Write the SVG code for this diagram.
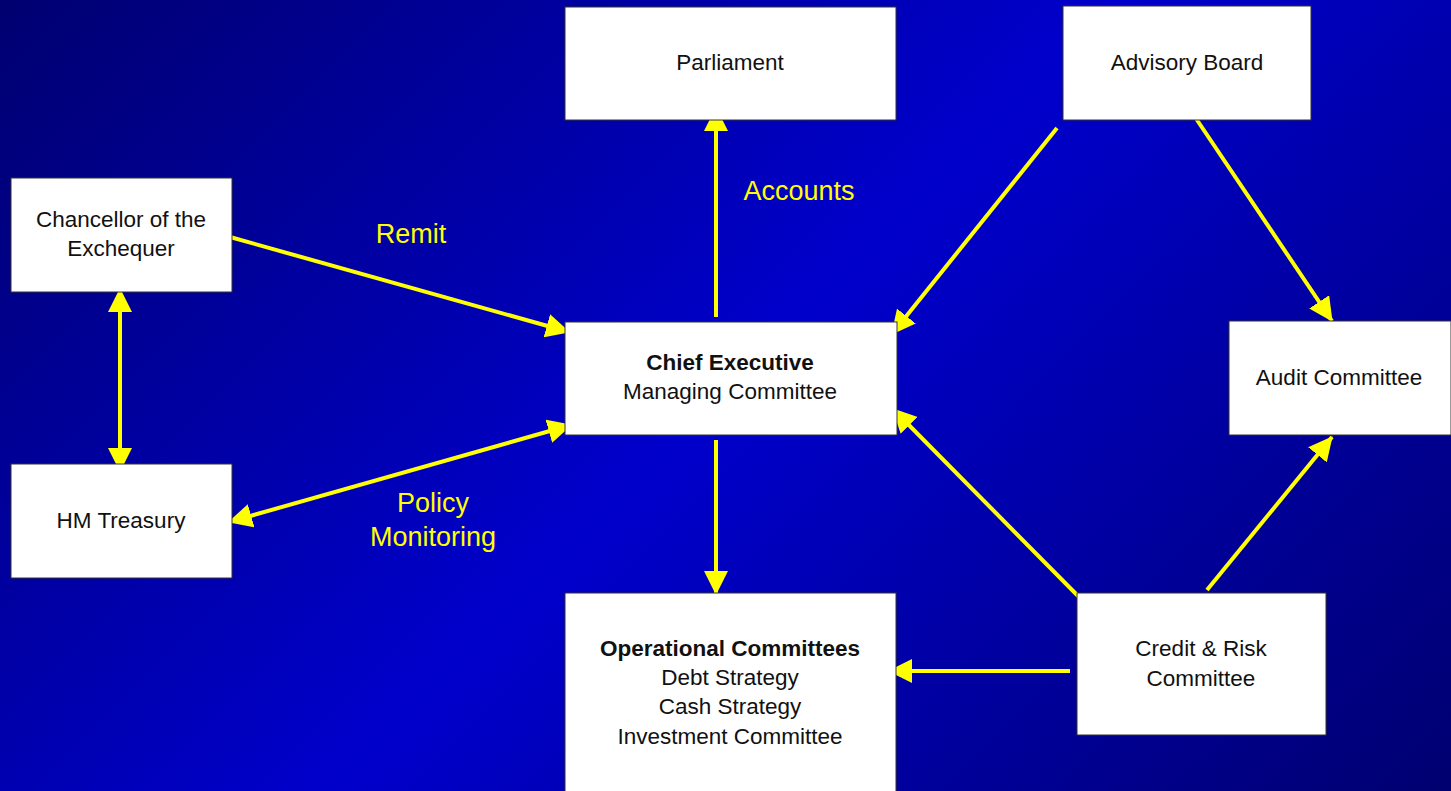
<svg xmlns="http://www.w3.org/2000/svg" width="1451" height="791" viewBox="0 0 1451 791">
  <defs>
    <linearGradient id="bg" gradientUnits="userSpaceOnUse" x1="0" y1="0" x2="1121" y2="1121">
      <stop offset="0" stop-color="#000070"/>
      <stop offset="0.5" stop-color="#0000cc"/>
      <stop offset="1" stop-color="#000070"/>
    </linearGradient>
    <marker id="head" viewBox="0 0 24 24" refX="23" refY="12" markerWidth="24" markerHeight="24" markerUnits="userSpaceOnUse" orient="auto-start-reverse">
      <path d="M0,0 L24,12 L0,24 Z" fill="#ffff00"/>
    </marker>
    <style>
      .box { fill: #ffffff; stroke: #333333; stroke-width: 1; }
      .txt { font-family: "Liberation Sans", Arial, sans-serif; font-size: 22.5px; fill: #111111; text-anchor: middle; }
      .bold { font-weight: bold; }
      .lbl { font-family: "Liberation Sans", Arial, sans-serif; font-size: 27px; fill: #ffff00; text-anchor: middle; }
      .conn { stroke: #ffff00; stroke-width: 4; fill: none; }
      .one { marker-end: url(#head); }
      .two { marker-start: url(#head); marker-end: url(#head); }
    </style>
  </defs>

  <rect x="0" y="0" width="1451" height="791" fill="url(#bg)"/>

  <!-- connectors -->
  <g id="connectors">
    <line class="conn two" x1="120" y1="289" x2="120" y2="471"/>
    <line class="conn one" x1="230" y1="237" x2="569" y2="332"/>
    <line class="conn two" x1="229" y1="522" x2="571" y2="425"/>
    <line class="conn one" x1="716" y1="317" x2="716" y2="108"/>
    <line class="conn one" x1="716" y1="440" x2="716" y2="594"/>
    <line class="conn one" x1="1057" y1="128" x2="892" y2="334"/>
    <line class="conn one" x1="1193" y1="114" x2="1332" y2="321"/>
    <line class="conn one" x1="1084" y1="602" x2="893" y2="409"/>
    <line class="conn one" x1="1207" y1="590" x2="1332" y2="437"/>
    <line class="conn one" x1="1070" y1="671" x2="889" y2="671"/>
  </g>

  <!-- connector labels -->
  <g id="labels">
    <text class="lbl" x="411" y="243">Remit</text>
    <text class="lbl" x="799" y="200">Accounts</text>
    <text class="lbl" x="433" y="512">Policy</text>
    <text class="lbl" x="433" y="546">Monitoring</text>
  </g>

  <g id="parliament">
    <rect class="box" x="565" y="7" width="331" height="113"/>
    <text class="txt" x="730" y="70">Parliament</text>
  </g>

  <g id="advisory-board">
    <rect class="box" x="1063" y="6" width="248" height="114"/>
    <text class="txt" x="1187" y="70">Advisory Board</text>
  </g>

  <g id="chancellor">
    <rect class="box" x="11" y="178" width="221" height="114"/>
    <text class="txt" x="121" y="227">Chancellor of the</text>
    <text class="txt" x="121" y="256">Exchequer</text>
  </g>

  <g id="hm-treasury">
    <rect class="box" x="11" y="464" width="221" height="114"/>
    <text class="txt" x="121" y="528">HM Treasury</text>
  </g>

  <g id="chief-executive">
    <rect class="box" x="565" y="322" width="332" height="113"/>
    <text class="txt bold" x="730" y="370">Chief Executive</text>
    <text class="txt" x="730" y="399">Managing Committee</text>
  </g>

  <g id="audit-committee">
    <rect class="box" x="1229" y="321" width="222" height="114"/>
    <text class="txt" x="1339" y="385">Audit Committee</text>
  </g>

  <g id="operational-committees">
    <rect class="box" x="565" y="593" width="331" height="210"/>
    <text class="txt bold" x="730" y="656">Operational Committees</text>
    <text class="txt" x="730" y="685">Debt Strategy</text>
    <text class="txt" x="730" y="714">Cash Strategy</text>
    <text class="txt" x="730" y="744">Investment Committee</text>
  </g>

  <g id="credit-risk">
    <rect class="box" x="1077" y="593" width="249" height="142"/>
    <text class="txt" x="1201" y="656">Credit &amp; Risk</text>
    <text class="txt" x="1201" y="686">Committee</text>
  </g>
</svg>
